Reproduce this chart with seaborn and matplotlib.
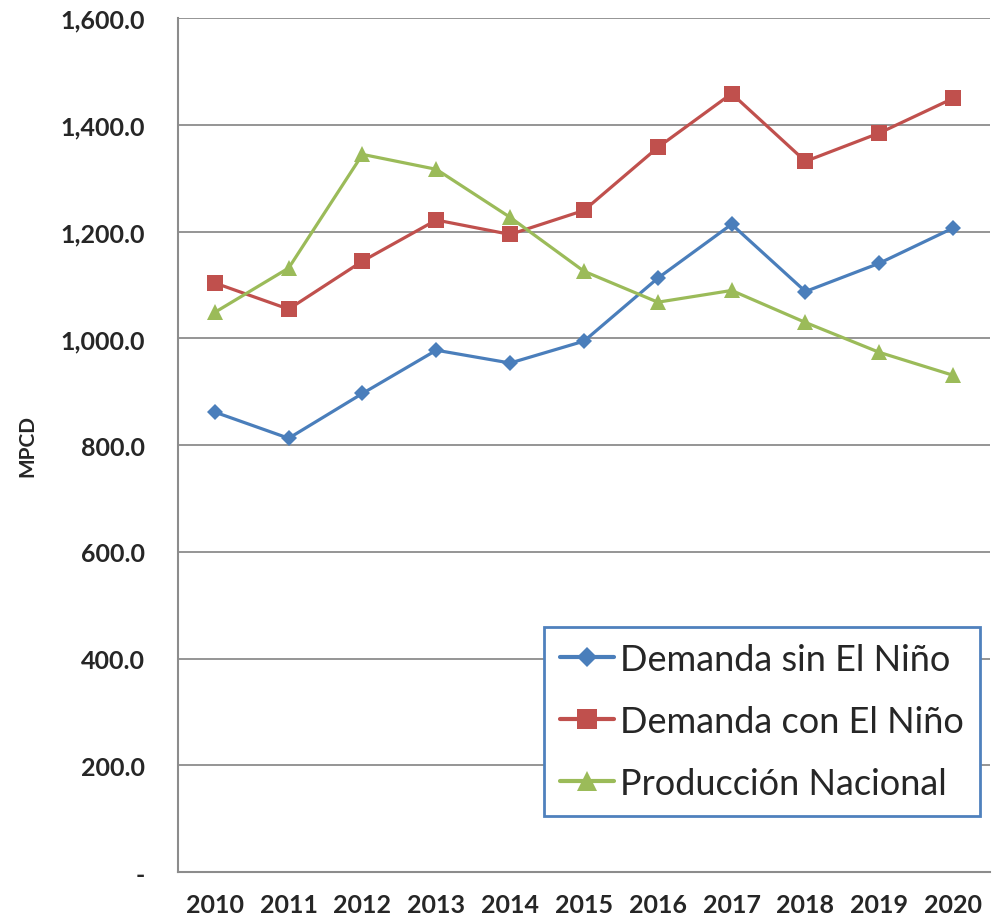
import matplotlib
matplotlib.use("Agg")
import matplotlib.pyplot as plt
import matplotlib.ticker as mticker
import seaborn as sns
import pandas as pd

years = [2010, 2011, 2012, 2013, 2014, 2015, 2016, 2017, 2018, 2019, 2020]
demanda_sin = [862, 813, 897, 978, 954, 995, 1113, 1214, 1088, 1141, 1207]
demanda_con = [1104, 1055, 1145, 1222, 1195, 1240, 1358, 1459, 1332, 1385, 1450]
produccion = [1049, 1132, 1345, 1317, 1227, 1126, 1068, 1090, 1030, 974, 931]

series_names = ["Demanda sin El Niño", "Demanda con El Niño", "Producción Nacional"]
series_colors = ["#4A7EBB", "#C0504D", "#9BBB59"]
series_markers = ["D", "s", "^"]
marker_sizes = [8.5, 11.5, 11.5]

df = pd.concat([
    pd.DataFrame({"year": years, "value": vals, "serie": name})
    for name, vals in zip(series_names, [demanda_sin, demanda_con, produccion])
])

sns.set_style("white")
plt.rcParams["font.family"] = ["Lato", "DejaVu Sans"]

fig = plt.figure(figsize=(9.94, 9.2), dpi=100)
ax = fig.add_axes([0.179, 0.051, 0.817, 0.928])

sns.lineplot(data=df, x="year", y="value", hue="serie", style="serie",
             hue_order=series_names, style_order=series_names,
             palette=series_colors, markers=series_markers, dashes=False,
             linewidth=2.3, markersize=10, markeredgewidth=0, ax=ax)
for line, ms in zip(ax.lines, marker_sizes):
    line.set_markersize(ms)

ax.set_xlim(2009.5, 2020.5)
ax.set_ylim(0, 1600)
ax.set_xticks(years)
ax.set_yticks(range(0, 1601, 200))

def fmt(v, pos):
    return "-" if v == 0 else "{:,.1f}".format(v)
ax.yaxis.set_major_formatter(mticker.FuncFormatter(fmt))

ax.grid(axis="y", color="#8C8C8C", linewidth=1.3)
ax.grid(axis="x", visible=False)
for side in ["top", "right"]:
    ax.spines[side].set_visible(False)
for side in ["left", "bottom"]:
    ax.spines[side].set_color("#8C8C8C")
    ax.spines[side].set_linewidth(1.5)

ax.tick_params(axis="y", length=0, pad=24, labelsize=18)
ax.tick_params(axis="x", length=0, pad=15, labelsize=18)
for lbl in ax.get_xticklabels() + ax.get_yticklabels():
    lbl.set_fontweight("bold")

ax.set_xlabel("")
ax.set_ylabel("MPCD", fontsize=15, fontweight="bold", labelpad=16)

leg = ax.legend(loc="lower left", bbox_to_anchor=(0.4507, 0.0656),
                fontsize=26, frameon=True, fancybox=False,
                handlelength=1.5, handletextpad=0.15, borderpad=0.45,
                labelspacing=0.8, borderaxespad=0)
leg.get_frame().set_edgecolor("#4F81BD")
leg.get_frame().set_linewidth(2)
leg.get_frame().set_alpha(1)
for line, ms in zip(leg.get_lines(), [10, 14, 14]):
    line.set_linewidth(3)
    line.set_markersize(ms)

fig.savefig("out.png", dpi=100)
